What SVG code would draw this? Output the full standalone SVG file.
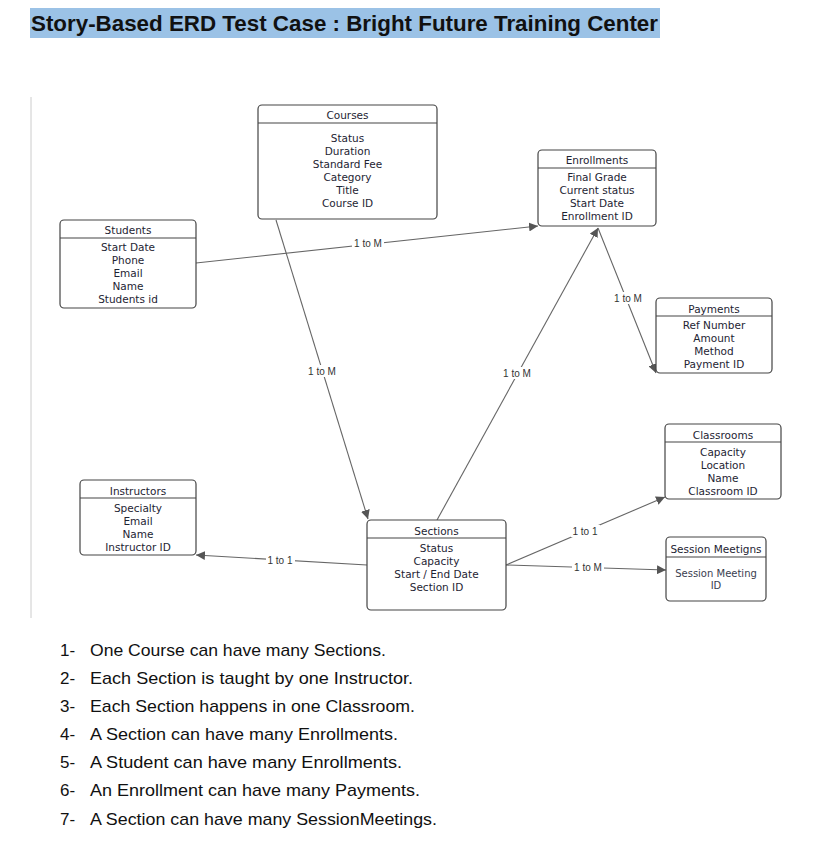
<svg xmlns="http://www.w3.org/2000/svg" width="822" height="851" viewBox="0 0 822 851">
<style>
.box{fill:#fff;stroke:#444;stroke-width:1.2}
.hl{stroke:#444;stroke-width:1.2}
.t{font-family:"DejaVu Sans",Verdana,sans-serif;font-size:10.5px;fill:#1e2433;text-anchor:middle}
.c{stroke:#666;stroke-width:1.1;fill:none}
.lb{font-family:"Liberation Sans",Arial,sans-serif;font-size:10px;fill:#333;text-anchor:middle}
.lbg{fill:#fff}
.li{font-family:"Liberation Sans",Arial,sans-serif;font-size:17px;fill:#111}
</style>
<defs>
<marker id="ah" viewBox="0 0 10 10" refX="10" refY="5" markerWidth="9" markerHeight="9" markerUnits="userSpaceOnUse" orient="auto">
<path d="M0,0 L10,5 L0,10 z" fill="#555"/>
</marker>
</defs>
<rect x="0" y="0" width="822" height="851" fill="#fff"/>
<rect x="30" y="8" width="630" height="30" fill="#9BC2E6"/>
<text x="31" y="31" font-family="Liberation Sans,Arial,sans-serif" font-weight="bold" font-size="22" fill="#111" textLength="627" lengthAdjust="spacingAndGlyphs">Story-Based ERD Test Case : Bright Future Training Center</text>
<line x1="31" y1="97" x2="31" y2="618" stroke="#ccc" stroke-width="1"/>

<g id="connectors">
<path class="c" d="M196,263 L538,226" marker-end="url(#ah)"/>
<path class="c" d="M276,220 L368,519" marker-end="url(#ah)"/>
<path class="c" d="M437,520 L598,228" marker-end="url(#ah)"/>
<path class="c" d="M598,228 L656,373" marker-end="url(#ah)"/>
<path class="c" d="M367,565 L196,555" marker-end="url(#ah)"/>
<path class="c" d="M506,565 L665,497" marker-end="url(#ah)"/>
<path class="c" d="M506,565 L666,570" marker-end="url(#ah)"/>
<rect class="lbg" x="352" y="237" width="32" height="12"/><text class="lb" x="368" y="247">1 to M</text>
<rect class="lbg" x="306" y="365" width="32" height="12"/><text class="lb" x="322" y="375">1 to M</text>
<rect class="lbg" x="501" y="367" width="32" height="12"/><text class="lb" x="517" y="377">1 to M</text>
<rect class="lbg" x="612" y="292" width="32" height="12"/><text class="lb" x="628" y="302">1 to M</text>
<rect class="lbg" x="266" y="554" width="29" height="12"/><text class="lb" x="280" y="564">1 to 1</text>
<rect class="lbg" x="571" y="525" width="29" height="12"/><text class="lb" x="585" y="535">1 to 1</text>
<rect class="lbg" x="572" y="561" width="32" height="12"/><text class="lb" x="588" y="571">1 to M</text>
</g>

<g id="courses">
<rect class="box" x="258" y="105" width="179" height="114" rx="4"/>
<line class="hl" x1="258" y1="123" x2="437" y2="123"/>
<text class="t" x="347.5" y="119">Courses</text>
<text class="t" x="347.5" y="142">Status</text>
<text class="t" x="347.5" y="155">Duration</text>
<text class="t" x="347.5" y="168">Standard Fee</text>
<text class="t" x="347.5" y="181">Category</text>
<text class="t" x="347.5" y="194">Title</text>
<text class="t" x="347.5" y="207">Course ID</text>
</g>

<g id="enrollments">
<rect class="box" x="538" y="150" width="118" height="76" rx="4"/>
<line class="hl" x1="538" y1="168" x2="656" y2="168"/>
<text class="t" x="597" y="164">Enrollments</text>
<text class="t" x="597" y="181">Final Grade</text>
<text class="t" x="597" y="194">Current status</text>
<text class="t" x="597" y="207">Start Date</text>
<text class="t" x="597" y="220">Enrollment ID</text>
</g>

<g id="students">
<rect class="box" x="60" y="220" width="136" height="88" rx="4"/>
<line class="hl" x1="60" y1="238" x2="196" y2="238"/>
<text class="t" x="128" y="234">Students</text>
<text class="t" x="128" y="251">Start Date</text>
<text class="t" x="128" y="264">Phone</text>
<text class="t" x="128" y="277">Email</text>
<text class="t" x="128" y="290">Name</text>
<text class="t" x="128" y="303">Students id</text>
</g>

<g id="payments">
<rect class="box" x="656" y="298" width="116" height="75" rx="4"/>
<line class="hl" x1="656" y1="316" x2="772" y2="316"/>
<text class="t" x="714" y="313">Payments</text>
<text class="t" x="714" y="329">Ref Number</text>
<text class="t" x="714" y="342">Amount</text>
<text class="t" x="714" y="355">Method</text>
<text class="t" x="714" y="368">Payment ID</text>
</g>

<g id="classrooms">
<rect class="box" x="665" y="424" width="116" height="75" rx="4"/>
<line class="hl" x1="665" y1="442" x2="781" y2="442"/>
<text class="t" x="723" y="439">Classrooms</text>
<text class="t" x="723" y="456">Capacity</text>
<text class="t" x="723" y="469">Location</text>
<text class="t" x="723" y="482">Name</text>
<text class="t" x="723" y="495">Classroom ID</text>
</g>

<g id="instructors">
<rect class="box" x="80" y="480" width="116" height="75" rx="4"/>
<line class="hl" x1="80" y1="498" x2="196" y2="498"/>
<text class="t" x="138" y="495">Instructors</text>
<text class="t" x="138" y="512">Specialty</text>
<text class="t" x="138" y="525">Email</text>
<text class="t" x="138" y="538">Name</text>
<text class="t" x="138" y="551">Instructor ID</text>
</g>

<g id="sections">
<rect class="box" x="367" y="520" width="139" height="90" rx="4"/>
<line class="hl" x1="367" y1="538" x2="506" y2="538"/>
<text class="t" x="436.5" y="535">Sections</text>
<text class="t" x="436.5" y="552">Status</text>
<text class="t" x="436.5" y="565">Capacity</text>
<text class="t" x="436.5" y="578">Start / End Date</text>
<text class="t" x="436.5" y="591">Section ID</text>
</g>

<g id="sessionmeetings">
<rect class="box" x="666" y="537" width="100" height="64" rx="4"/>
<line class="hl" x1="666" y1="557" x2="766" y2="557"/>
<text class="t" x="716" y="553">Session Meetigns</text>
<text class="t" x="716" y="577" style="fill:#3a4050;font-size:10px">Session Meeting</text>
<text class="t" x="716" y="589" style="fill:#3a4050;font-size:10px">ID</text>
</g>

<g id="list">
<text class="li" x="60" y="656">1-</text><text class="li" x="90" y="656" textLength="296" lengthAdjust="spacingAndGlyphs">One Course can have many Sections.</text>
<text class="li" x="60" y="684">2-</text><text class="li" x="90" y="684" textLength="323" lengthAdjust="spacingAndGlyphs">Each Section is taught by one Instructor.</text>
<text class="li" x="60" y="712">3-</text><text class="li" x="90" y="712" textLength="325" lengthAdjust="spacingAndGlyphs">Each Section happens in one Classroom.</text>
<text class="li" x="60" y="740">4-</text><text class="li" x="90" y="740" textLength="308" lengthAdjust="spacingAndGlyphs">A Section can have many Enrollments.</text>
<text class="li" x="60" y="768">5-</text><text class="li" x="90" y="768" textLength="312" lengthAdjust="spacingAndGlyphs">A Student can have many Enrollments.</text>
<text class="li" x="60" y="796">6-</text><text class="li" x="90" y="796" textLength="330" lengthAdjust="spacingAndGlyphs">An Enrollment can have many Payments.</text>
<text class="li" x="60" y="825">7-</text><text class="li" x="90" y="825" textLength="347" lengthAdjust="spacingAndGlyphs">A Section can have many SessionMeetings.</text>
</g>
</svg>
